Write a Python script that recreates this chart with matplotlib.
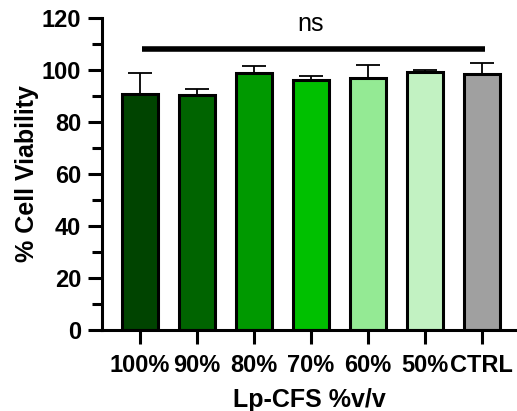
import matplotlib.pyplot as plt
from matplotlib.ticker import MultipleLocator

groups = ['100%', '90%', '80%', '70%', '60%', '50%', 'CTRL']
viability = [90.8, 90.6, 99.0, 96.3, 97.0, 99.3, 98.4]
sd = [8.0, 2.0, 2.4, 1.6, 5.0, 0.8, 4.2]
colors = ['#004400', '#006400', '#009900', '#00C000', '#94EA94', '#C2F2C2', '#A0A0A0']

plt.rcParams['font.family'] = ['Liberation Sans', 'DejaVu Sans']

fig = plt.figure(figsize=(5.17, 4.11), dpi=100)
ax = fig.add_axes([0.197, 0.197, 0.803, 0.759])

x = list(range(len(groups)))
ax.bar(x, viability, width=0.63, color=colors, edgecolor='black', linewidth=2.2,
       zorder=2)
ax.errorbar(x, viability, yerr=[[0] * len(sd), sd], fmt='none', ecolor='black',
            elinewidth=1.3, capsize=8.5, capthick=1.3, zorder=1)

# significance bar
ax.plot([0.03, 6.05], [108, 108], color='black', lw=4, solid_capstyle='butt')
ax.text(3.0, 113, 'ns', ha='center', va='bottom', fontsize=18)

ax.set_xlim(-0.67, 6.62)
ax.set_ylim(0, 120)
ax.yaxis.set_major_locator(MultipleLocator(20))
ax.yaxis.set_minor_locator(MultipleLocator(10))
ax.set_xticks(x)
ax.set_xticklabels(groups, fontsize=17, fontweight='bold')
for lab in ax.get_yticklabels():
    lab.set_fontsize(17)
    lab.set_fontweight('bold')

for s in ['top', 'right']:
    ax.spines[s].set_visible(False)
for s in ['left', 'bottom']:
    ax.spines[s].set_linewidth(2.2)
ax.tick_params(axis='both', which='major', width=2.2, length=10, pad=5)
ax.tick_params(axis='y', which='minor', width=2.2, length=7)
ax.tick_params(axis='x', pad=7)

ax.set_ylabel('% Cell Viability', fontsize=18, fontweight='bold', labelpad=2)
ax.set_xlabel('Lp-CFS %v/v', fontsize=18, fontweight='bold', labelpad=8)

fig.savefig('out.png', dpi=100)
